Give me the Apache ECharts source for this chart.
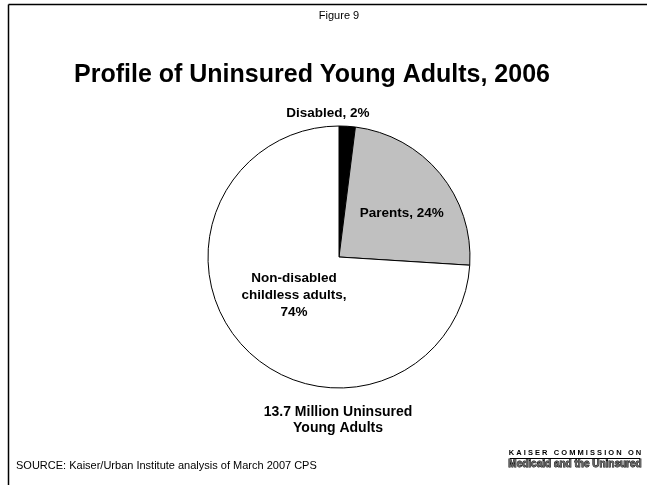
<!DOCTYPE html>
<html>
<head>
<meta charset="utf-8">
<script src="https://cdn.jsdelivr.net/npm/echarts@6/dist/echarts.min.js"></script>
<style>html,body{margin:0;padding:0;background:#fff}#c{width:647px;height:485px}</style>
</head>
<body>
<div id="c"></div>
<script>
const categories = ['Disabled', 'Parents', 'Non-disabled childless adults'];
const labelTexts = ['Disabled, 2%', 'Parents, 24%', 'Non-disabled\nchildless adults,\n74%'];
const values = [2, 24, 74];
const colors = ['#000000', '#c0c0c0', '#ffffff'];
const figureLabel = 'Figure 9';
const titleText = 'Profile of Uninsured Young Adults, 2006';
const totalText = '13.7 Million Uninsured\nYoung Adults';
const sourceText = 'SOURCE: Kaiser/Urban Institute analysis of March 2007 CPS';

const FONT = '"Liberation Sans", Arial, sans-serif';
const chart = echarts.init(document.getElementById('c'), null, {renderer: 'canvas'});

const labelShift = [[-66, -13], [10, 0], [5, -9]];

chart.setOption({
  backgroundColor: '#fff',
  animation: false,
  title: [
    {text: figureLabel, left: 339, top: 10, textAlign: 'center', padding: 0,
     textStyle: {fontFamily: FONT, fontSize: 11, fontWeight: 'normal', color: '#000'}},
    {text: titleText, left: 312, top: 63, textAlign: 'center', padding: 0,
     textStyle: {fontFamily: FONT, fontSize: 25, fontWeight: 'bold', color: '#000'}},
    {text: totalText, left: 338, top: 404, textAlign: 'center', padding: 0,
     textStyle: {fontFamily: FONT, fontSize: 14, fontWeight: 'bold', color: '#000', lineHeight: 16}}
  ],
  series: [{
    type: 'pie',
    center: [339, 257],
    radius: [0, 131],
    startAngle: 90,
    clockwise: true,
    silent: true,
    data: categories.map((c, i) => ({
      name: c, value: values[i],
      itemStyle: {color: colors[i]},
      label: {
        position: i === 0 ? 'outside' : 'inside',
        formatter: labelTexts[i]
      },
      labelLine: {show: false, length: 0, length2: 0}
    })),
    itemStyle: {borderColor: '#000', borderWidth: 1},
    label: {fontFamily: FONT, fontSize: 13.5, fontWeight: 'bold', color: '#000', lineHeight: 17, align: 'center'},
    labelLayout: function (p) {
      const s = labelShift[p.dataIndex];
      return {dx: s[0], dy: s[1]};
    }
  }],
  graphic: [
    {type: 'line', shape: {x1: 8.5, y1: 4.5, x2: 647, y2: 4.5}, style: {stroke: '#000', lineWidth: 1.5}},
    {type: 'line', shape: {x1: 8.5, y1: 4.5, x2: 8.5, y2: 485}, style: {stroke: '#000', lineWidth: 1.5}},
    {type: 'text', x: 16, y: 460, style: {text: sourceText, font: '11px ' + FONT, fill: '#000'}},
    {type: 'text', x: 575, y: 449, style: {text: 'K A I S E R   C O M M I S S I O N   O N', font: 'bold 7.5px ' + FONT, fill: '#000', textAlign: 'center'}},
    {type: 'line', shape: {x1: 510, y1: 458.5, x2: 640, y2: 458.5}, style: {stroke: '#000', lineWidth: 1}},
    {type: 'text', x: 575, y: 459.5, style: {text: 'Medicaid and the Uninsured', font: 'bold 10px ' + FONT, fill: '#666', stroke: '#000', lineWidth: 0.8, textAlign: 'center'}}
  ]
});
</script>
</body>
</html>
